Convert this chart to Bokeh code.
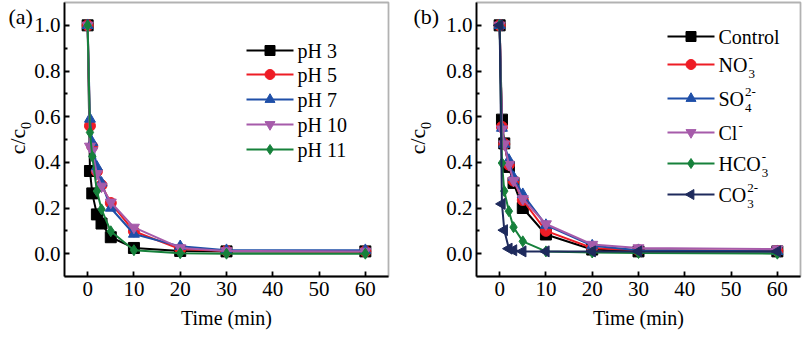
import math
from bokeh.plotting import figure
from bokeh.layouts import row
from bokeh.models import (Label, FixedTicker, Range1d, PrintfTickFormatter,
                          LinearAxis, BoxAnnotation)
from bokeh.embed import file_html
from bokeh.resources import INLINE

# ---------------- data ----------------
time = [0, 0.5, 1, 2, 3, 5, 10, 20, 30, 60]

# panel (a): effect of pH
ph3 = [1.0, 0.362, 0.264, 0.172, 0.132, 0.072, 0.025, 0.012, 0.010, 0.010]
ph5 = [1.0, 0.560, 0.470, 0.360, 0.300, 0.222, 0.098, 0.020, 0.012, 0.010]
ph7 = [1.0, 0.590, 0.487, 0.380, 0.310, 0.200, 0.086, 0.032, 0.015, 0.015]
ph10 = [1.0, 0.470, 0.450, 0.350, 0.295, 0.225, 0.115, 0.025, 0.012, 0.010]
ph11 = [1.0, 0.531, 0.426, 0.274, 0.194, 0.098, 0.015, 0.002, 0.000, 0.000]
labels_a = ["pH 3", "pH 5", "pH 7", "pH 10", "pH 11"]

# panel (b): effect of co-existing anions
control = [1.0, 0.587, 0.483, 0.380, 0.310, 0.200, 0.084, 0.018, 0.010, 0.010]
no3 = [1.0, 0.555, 0.480, 0.390, 0.320, 0.235, 0.100, 0.025, 0.015, 0.012]
so4 = [1.0, 0.550, 0.480, 0.410, 0.335, 0.260, 0.125, 0.035, 0.015, 0.010]
cl = [1.0, 0.545, 0.480, 0.390, 0.320, 0.240, 0.130, 0.040, 0.025, 0.020]
hco3 = [1.0, 0.397, 0.274, 0.186, 0.116, 0.054, 0.010, 0.005, 0.003, 0.000]
co3 = [1.0, 0.218, 0.103, 0.022, 0.015, 0.010, 0.010, 0.010, 0.010, 0.010]
# legend label pieces: (main, superscript, subscript)
labels_b = [("Control", "", ""), ("NO", "-", "3"), ("SO", "2-", "4"),
            ("Cl", "-", ""), ("HCO", "-", "3"), ("CO", "2-", "3")]

x_ticks = [0, 10, 20, 30, 40, 50, 60]
y_ticks = [0.0, 0.2, 0.4, 0.6, 0.8, 1.0]
y_minor = [0.1, 0.3, 0.5, 0.7, 0.9]
x_title = "Time (min)"

# ---------------- styles ----------------
BLACK = "#000000"
RED = "#EE1C25"
BLUE = "#1F4FA8"
PURPLE = "#A65BAA"
GREEN = "#16813B"
NAVY = "#1E2A5C"
FONT = "Liberation Serif"

XR = (-5, 65)            # visible axis box (data)
YR = (-0.1, 1.1)
H = 337
FT, FB = 2, 276          # box top / bottom (px)
FW = 324                 # box width (px)
LW = 1.8


def make_fig(width, left):
    sx = (XR[1] - XR[0]) / FW
    sy = (YR[1] - YR[0]) / (FB - FT)
    xr = Range1d(XR[0] - left * sx, XR[1] + (width - left - FW) * sx)
    yr = Range1d(YR[0] - (H - FB) * sy, YR[1] + FT * sy)
    p = figure(width=width, height=H, x_range=xr, y_range=yr,
               x_axis_location=None, y_axis_location=None, min_border=0,
               output_backend="svg", toolbar_location=None)
    p.grid.visible = False
    p.outline_line_color = None
    p.background_fill_color = "white"
    p.border_fill_color = "white"

    xax = LinearAxis(fixed_location=YR[0], bounds=XR,
                     ticker=FixedTicker(ticks=x_ticks), axis_label=x_title)
    yax = LinearAxis(fixed_location=XR[0], bounds=YR,
                     ticker=FixedTicker(ticks=y_ticks, minor_ticks=y_minor),
                     formatter=PrintfTickFormatter(format="%.1f"))
    for ax in (xax, yax):
        ax.axis_line_width = LW
        ax.major_tick_line_width = LW
        ax.minor_tick_line_width = LW
        ax.major_tick_in = 5
        ax.major_tick_out = 0
        ax.minor_tick_in = 3
        ax.minor_tick_out = 0
        ax.major_label_text_font = FONT
        ax.major_label_text_font_size = "21px"
        ax.major_label_text_color = "black"
        ax.axis_label_text_font = FONT
        ax.axis_label_text_font_size = "20px"
        ax.axis_label_text_font_style = "normal"
        ax.axis_label_text_color = "black"
    xax.minor_tick_line_color = None
    xax.major_label_standoff = 5
    xax.axis_label_standoff = 8
    yax.major_label_standoff = 4
    p.add_layout(xax, "below")
    p.add_layout(yax, "left")
    p.add_layout(BoxAnnotation(left=XR[0], right=XR[1], bottom=YR[0], top=YR[1],
                               fill_alpha=0, line_color="black", line_width=LW))

    def fx(px):
        return xr.start + px * sx

    def fy(py):
        return yr.end - py * sy
    return p, fx, fy


def add_series(p, ys, color, marker, angle=0.0):
    p.line(time, ys, line_color=color, line_width=2)
    p.scatter(time, ys, marker=marker, size=11, fill_color=color,
              line_color=color, angle=angle)


def label(p, x, y, text, size="20px", align="left", baseline="middle", angle=0.0):
    # x, y in canvas pixels (top-left origin)
    p.add_layout(Label(x=x, y=y, x_units="canvas", y_units="canvas", text=text,
                       text_font=FONT, text_font_size=size,
                       text_align=align, text_baseline=baseline, text_color="black",
                       angle=angle))


def y_axis_title(p):
    label(p, 17, 141, "c/c", size="22px", align="center", angle=math.pi / 2)
    label(p, 25.5, 125, "0", size="14px", align="center", angle=math.pi / 2)


# ---------------- panel (a) ----------------
pa, fxa, fya = make_fig(400, 64)
series_a = [(ph3, BLACK, "square", 0.0), (ph5, RED, "circle", 0.0),
            (ph7, BLUE, "triangle", 0.0), (ph10, PURPLE, "inverted_triangle", 0.0),
            (ph11, GREEN, "diamond", 0.0)]
for ys, c, m, a in series_a:
    add_series(pa, ys, c, m, a)

rows_a = [50, 74, 99, 124, 149]
for (ys, c, m, a), lab, ry in zip(series_a, labels_a, rows_a):
    pa.line([fxa(246), fxa(293)], [fya(ry), fya(ry)], line_color=c, line_width=2)
    pa.scatter([fxa(269.5)], [fya(ry)], marker=m, size=10, fill_color=c, line_color=c, angle=a)
    label(pa, 297, ry, lab)

label(pa, 8, 16, "(a)", size="22px")
y_axis_title(pa)

# ---------------- panel (b) ----------------
pb, fxb, fyb = make_fig(403, 76)
series_b = [(control, BLACK, "square", 0.0), (no3, RED, "circle", 0.0),
            (so4, BLUE, "triangle", 0.0), (cl, PURPLE, "inverted_triangle", 0.0),
            (hco3, GREEN, "diamond", 0.0), (co3, NAVY, "triangle", math.pi / 2)]
for ys, c, m, a in series_b:
    add_series(pb, ys, c, m, a)

rows_b = [36, 64, 98, 132, 163, 194]
main_w = {"Control": 62.0, "NO": 28.9, "SO": 25.6, "Cl": 18.9, "HCO": 42.2, "CO": 27.8}
for (ys, c, m, a), (main, sup, sub), ry in zip(series_b, labels_b, rows_b):
    pb.line([fxb(267), fxb(314)], [fyb(ry), fyb(ry)], line_color=c, line_width=2)
    pb.scatter([fxb(290.5)], [fyb(ry)], marker=m, size=10, fill_color=c, line_color=c, angle=a)
    label(pb, 318, ry, main)
    xs = 318 + main_w[main] + 1
    if sup:
        label(pb, xs, ry - 7, sup, size="13px")
    if sub:
        label(pb, xs, ry + 9, sub, size="13px")

label(pb, 13, 16, "(b)", size="22px")
y_axis_title(pb)

layout = row(pa, pb)
open("out.html", "w").write(file_html(layout, INLINE))
